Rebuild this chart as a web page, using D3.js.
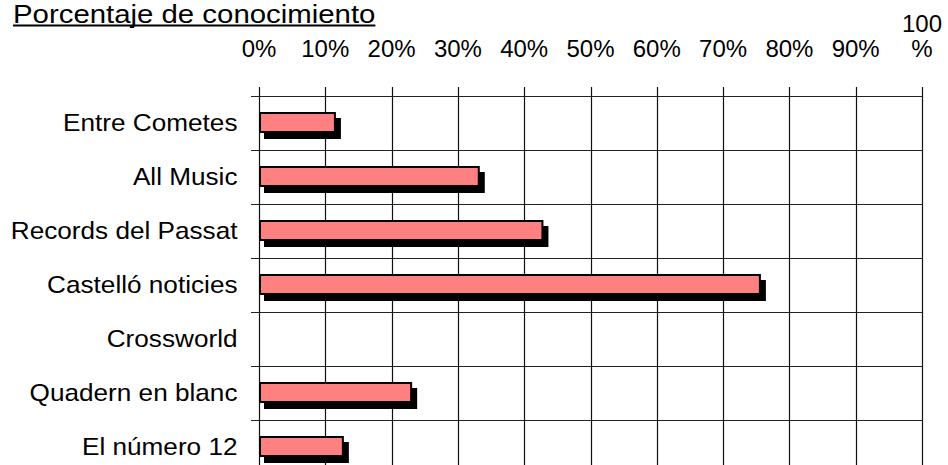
<!DOCTYPE html>
<html>
<head>
<meta charset="utf-8">
<script src="https://cdn.jsdelivr.net/npm/d3@7"></script>
<style>
  html, body { margin: 0; padding: 0; background: #fff; }
  svg { display: block; font-family: "Liberation Sans", Arial, Helvetica, sans-serif; }
</style>
</head>
<body>
<svg id="chart" width="948" height="465"></svg>
<script>
const title = "Porcentaje de conocimiento";
const categories = ["Entre Cometes", "All Music", "Records del Passat", "Castelló noticies", "Crossworld", "Quadern en blanc", "El número 12"];
const values = [0.116, 0.333, 0.429, 0.757, 0, 0.231, 0.128];
const tickValues = [0, 0.1, 0.2, 0.3, 0.4, 0.5, 0.6, 0.7, 0.8, 0.9, 1.0];
const tickLabels = ["0%", "10%", "20%", "30%", "40%", "50%", "60%", "70%", "80%", "90%", "100 %"];

const svg = d3.select("#chart");
const stretch = 1.09;
const titleStretch = 1.175;

const x = d3.scaleLinear().domain([0, 1]).range([259, 922]);
const y = d3.scaleBand().domain(categories).range([96, 474]).padding(0);

const gridTop = 87;
const gridBottom = 474;

// vertical gridlines (with tick stubs above the plot)
svg.append("g")
  .selectAll("line")
  .data(tickValues)
  .join("line")
  .attr("x1", d => Math.round(x(d)) + 0.5)
  .attr("x2", d => Math.round(x(d)) + 0.5)
  .attr("y1", gridTop)
  .attr("y2", gridBottom)
  .attr("stroke", "#111")
  .attr("stroke-width", 1.2);

// horizontal lines at band boundaries (with tick stubs on the left)
const boundaries = categories.map(c => y(c)).concat([y(categories[categories.length - 1]) + y.bandwidth()]);
svg.append("g")
  .selectAll("line")
  .data(boundaries)
  .join("line")
  .attr("x1", 251)
  .attr("x2", x(1) + 1)
  .attr("y1", d => Math.round(d) + 0.5)
  .attr("y2", d => Math.round(d) + 0.5)
  .attr("stroke", "#222")
  .attr("stroke-width", 1.2);

// tick labels
const tl = svg.append("g")
  .attr("font-size", 24)
  .attr("fill", "#000")
  .attr("text-anchor", "middle");
tickValues.forEach((v, i) => {
  const parts = tickLabels[i].split(" ");
  const t = tl.append("text").attr("x", x(v)).attr("y", 57.3);
  parts.forEach((p, j) => {
    t.append("tspan")
      .attr("x", x(v))
      .attr("y", 57.3 - (parts.length - 1 - j) * 25.6)
      .text(p);
  });
});

// bars
const barH = 21;
const data = categories.map((c, i) => ({ c, v: values[i] })).filter(d => d.v > 0);
const bars = svg.append("g");
bars.selectAll("rect.shadow")
  .data(data)
  .join("rect")
  .attr("class", "shadow")
  .attr("x", x(0) + 5)
  .attr("y", d => y(d.c) + y.bandwidth() / 2 - 11 + 6)
  .attr("width", d => x(d.v) - x(0))
  .attr("height", barH)
  .attr("fill", "#000");
bars.selectAll("rect.bar")
  .data(data)
  .join("rect")
  .attr("class", "bar")
  .attr("x", x(0) + 1)
  .attr("y", d => y(d.c) + y.bandwidth() / 2 - 11 + 1)
  .attr("width", d => x(d.v) - x(0) - 2)
  .attr("height", barH - 2)
  .attr("fill", "#FF8080")
  .attr("stroke", "#000")
  .attr("stroke-width", 2);

// category labels
const lab = svg.append("g").attr("font-size", 24).attr("fill", "#000");
categories.forEach(c => {
  lab.append("text")
    .attr("transform", `translate(237.5, ${y(c) + y.bandwidth() / 2 + 7.7}) scale(${stretch},1)`)
    .attr("text-anchor", "end")
    .text(c);
});

// title
const tt = svg.append("text")
  .attr("transform", `translate(13, 23) scale(${titleStretch},1)`)
  .attr("font-size", 25)
  .attr("fill", "#000")
  .text(title);
const tw = tt.node().getComputedTextLength() * titleStretch;
svg.append("line")
  .attr("x1", 13).attr("x2", 13 + tw)
  .attr("y1", 25.5).attr("y2", 25.5)
  .attr("stroke", "#000").attr("stroke-width", 2);
</script>
</body>
</html>
